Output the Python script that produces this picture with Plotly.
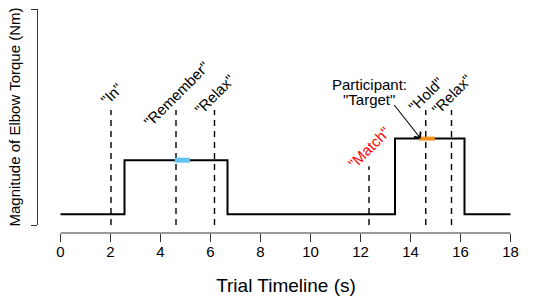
import plotly.graph_objects as go

# ---------------- data ----------------
step_times = [0, 2.56, 6.68, 13.38, 16.16, 18]
step_torque = [0, 1.0, 0, 1.4, 0, 0]

cue_times = [2.02, 4.62, 6.16, 12.34, 14.61, 15.64]
cue_labels = ['"In"', '"Remember"', '"Relax"', '"Match"', '"Hold"', '"Relax"']
cue_colors = ["black", "black", "black", "red", "black", "black"]
cue_line_top = [1.93, 1.93, 1.93, 0.89, 1.93, 1.93]
cue_label_y = [2.22, 2.22, 2.22, 1.24, 2.22, 2.22]
cue_line_bottom = -0.2

remember_window = [4.57, 5.18]
remember_level = 1.0
hold_window = [14.35, 14.97]
hold_level = 1.4

participant_lines = ["Participant:", '"Target"']
participant_x = 12.34
participant_y = [2.41, 2.13]
arrow_tail = (13.3, 2.05)
arrow_tip = (14.41, 1.4)

x_ticks = [0, 2, 4, 6, 8, 10, 12, 14, 16, 18]
y_ticks = [-0.2, 3.8]

FONT = "Liberation Sans, Arial, sans-serif"
AXC = "#333333"

fig = go.Figure()

# dashed cue lines
for t, top in zip(cue_times, cue_line_top):
    fig.add_trace(go.Scatter(x=[t, t], y=[cue_line_bottom, top], mode="lines",
                             line=dict(color="black", width=1.4, dash="6px,5px"),
                             showlegend=False, hoverinfo="skip"))

# torque step trace
fig.add_trace(go.Scatter(x=step_times, y=step_torque, mode="lines", line_shape="hv",
                         line=dict(color="black", width=2), showlegend=False))

# highlights
fig.add_trace(go.Scatter(x=remember_window, y=[remember_level] * 2, mode="lines",
                         line=dict(color="#63C3F3", width=5), showlegend=False))
fig.add_trace(go.Scatter(x=hold_window, y=[hold_level] * 2, mode="lines",
                         line=dict(color="#F4901E", width=4), showlegend=False))

# cue labels
for t, lab, col, ly in zip(cue_times, cue_labels, cue_colors, cue_label_y):
    fig.add_annotation(x=t, y=ly, text=lab, showarrow=False, textangle=-45,
                       font=dict(family=FONT, size=15, color=col),
                       xanchor="center", yanchor="middle")

for txt, py in zip(participant_lines, participant_y):
    fig.add_annotation(x=participant_x, y=py, text=txt, showarrow=False,
                       font=dict(family=FONT, size=15, color="black"),
                       xanchor="center", yanchor="middle")

fig.add_annotation(x=arrow_tip[0], y=arrow_tip[1], ax=arrow_tail[0], ay=arrow_tail[1],
                   axref="x", ayref="y", xref="x", yref="y", text="",
                   showarrow=True, arrowhead=4, arrowsize=1.5, arrowwidth=1.1,
                   arrowcolor="black", standoff=0, startstandoff=0)

# x axis line from first to last tick
fig.add_shape(type="line", xref="x", yref="paper", x0=min(x_ticks), x1=max(x_ticks),
              y0=0, y1=0, line=dict(color=AXC, width=1))

fig.update_layout(
    width=536, height=301,
    margin=dict(l=38, r=2, t=9, b=68),
    paper_bgcolor="white", plot_bgcolor="white",
    font=dict(family=FONT, color="black"),
    xaxis=dict(range=[-0.9, 18.94], tickvals=x_ticks, ticktext=[str(v) for v in x_ticks],
               ticks="outside", ticklen=8, tickwidth=1, tickcolor=AXC,
               showline=False, showgrid=False, zeroline=False,
               anchor="free", position=0, ticklabelstandoff=-3,
               tickfont=dict(family=FONT, size=15, color="black"),
               title=dict(text="Trial Timeline (s)", font=dict(family=FONT, size=19),
                          standoff=19)),
    yaxis=dict(domain=[0.0357, 1], range=[-0.2, 3.8], tickvals=y_ticks,
               ticks="outside", ticklen=6, tickwidth=1, tickcolor=AXC,
               showticklabels=False, showline=True, linecolor=AXC, linewidth=1,
               showgrid=False, zeroline=False,
               title=dict(text="Magnitude of Elbow Torque (Nm)",
                          font=dict(family=FONT, size=15), standoff=6)),
)

fig.write_html("out.html", config={"displayModeBar": False},
               post_script="document.body.style.margin='0';"
                           "document.body.style.overflow='hidden';")
